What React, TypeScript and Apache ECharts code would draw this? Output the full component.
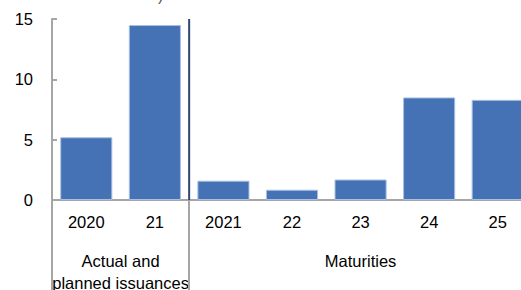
import React, { useEffect, useRef } from "react";
import * as echarts from "echarts";

const categories = ["2020", "21", "2021", "22", "23", "24", "25"];
const values = [5.2, 14.5, 1.6, 0.85, 1.7, 8.5, 8.3];
const yMin = 0;
const yMax = 15;
const yInterval = 5;
const groupLabels = ["Actual and\nplanned issuances", "Maturities"];
const groupStart = [0, 2];
const groupEnd = [1, 6];
const separatorIndices = [0, 2];

const FONT = '"Liberation Sans", Arial, sans-serif';
const FS = 16.5;
const GRAY = "#A6A6A6";
const NAVY = "#2E4773";

export default function App() {
  const ref = useRef<HTMLDivElement>(null);
  useEffect(() => {
    if (!ref.current) return;
    const chart = echarts.init(ref.current, null, { renderer: "svg" });
    chart.setOption({
      animation: false,
      grid: { left: 52, right: 0, top: 19, bottom: 90 },
      xAxis: {
        type: "category",
        data: categories,
        boundaryGap: true,
        axisLine: { show: true, lineStyle: { color: GRAY, width: 2 } },
        axisTick: {
          show: true,
          interval: (i: number) => separatorIndices.includes(i),
          length: 90,
          lineStyle: { color: GRAY, width: 2 },
        },
        splitLine: { show: false },
        axisLabel: { color: "#000", fontSize: FS, fontFamily: FONT, margin: 13, interval: 0 },
      },
      yAxis: {
        type: "value",
        min: yMin,
        max: yMax,
        interval: yInterval,
        axisLine: { show: true, lineStyle: { color: GRAY, width: 2 } },
        axisTick: { show: true, inside: true, length: 5, lineStyle: { color: GRAY, width: 2 } },
        splitLine: { show: false },
        axisLabel: { color: "#000", fontSize: FS, fontFamily: FONT, margin: 19 },
      },
      series: [
        {
          type: "bar",
          data: values,
          barCategoryGap: "24%",
          itemStyle: { color: "#4472B4", borderColor: "#A9BFE3", borderWidth: 1 },
        },
      ],
    });
    const px = (i: number) => chart.convertToPixel({ xAxisIndex: 0 }, categories[i]) as number;
    const graphics: any[] = groupLabels.map((label, g) => ({
      type: "text",
      x: (px(groupStart[g]) + px(groupEnd[g])) / 2,
      y: 250,
      style: {
        text: label,
        fill: "#000",
        font: `${FS}px ${FONT}`,
        textAlign: "center",
        textVerticalAlign: "top",
        lineHeight: 22,
      },
    }));
    const bx = (px(groupEnd[0]) + px(groupStart[1])) / 2;
    const yTop = chart.convertToPixel({ yAxisIndex: 0 }, yMax) as number;
    const yBot = chart.convertToPixel({ yAxisIndex: 0 }, yMin) as number;
    graphics.push({
      type: "line",
      shape: { x1: bx, y1: yTop, x2: bx, y2: yBot },
      style: { stroke: NAVY, lineWidth: 2 },
      z: 10,
    });
    graphics.push({
      type: "text",
      x: 158,
      y: -13,
      style: { text: ")", fill: "#555", font: `16px ${FONT}`, textVerticalAlign: "top" },
    });
    chart.setOption({ graphic: graphics });
    return () => chart.dispose();
  }, []);
  return (
    <div style={{ position: "fixed", left: 0, top: 0, width: 521, height: 290, overflow: "hidden", background: "#fff" }}>
      <div ref={ref} style={{ width: 532, height: 290 }} />
    </div>
  );
}
